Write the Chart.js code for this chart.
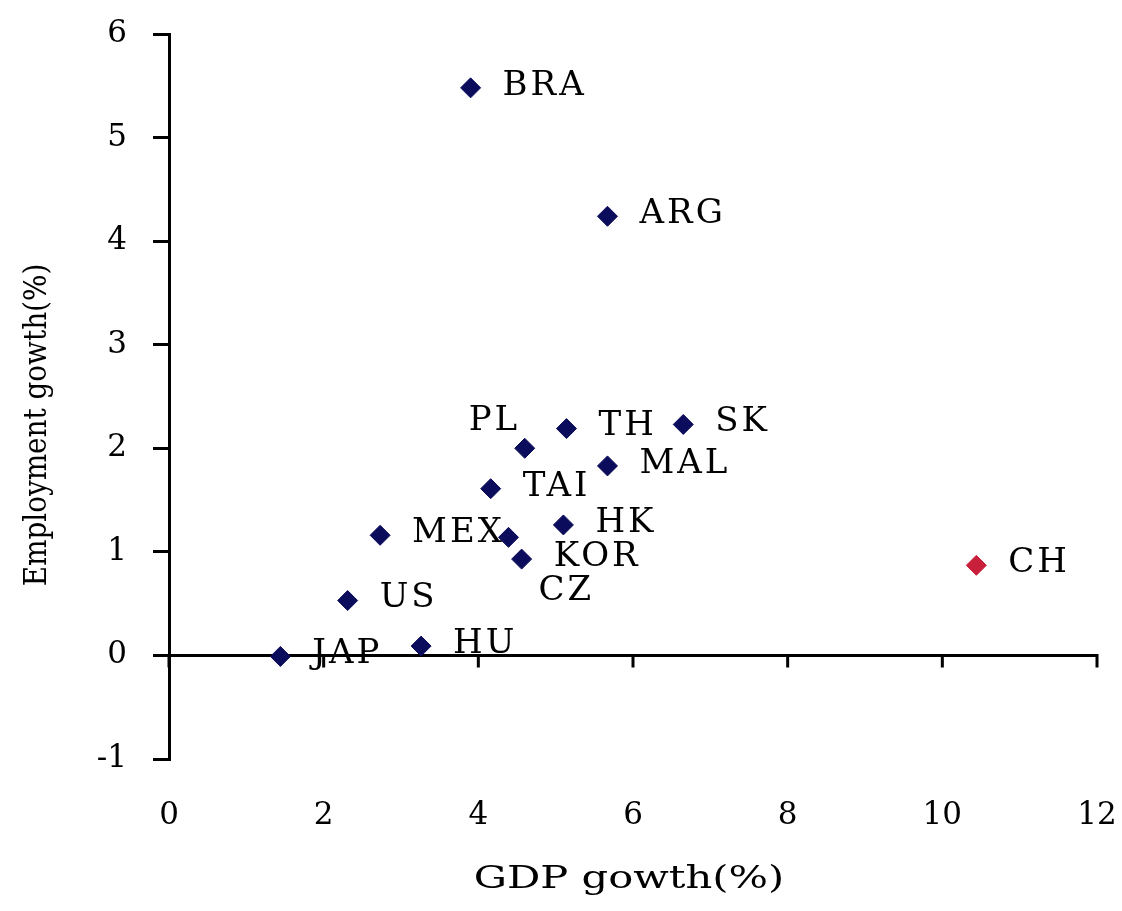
<!DOCTYPE html>
<html>
<head>
<meta charset="utf-8">
<script src="https://cdn.jsdelivr.net/npm/chart.js@4"></script>
<style>
  body { margin: 0; background: #fff; }
</style>
</head>
<body>
<canvas id="myChart1" width="1122" height="911"></canvas>
<script>
// 国・地域の略称
const countries = ["BRA", "ARG", "PL", "TH", "SK", "MAL", "TAI", "HK", "MEX", "CZ", "KOR", "US", "JAP", "HU", "CH"];
// GDP成長率(%)
const gdpGrowth = [3.90, 5.67, 4.60, 5.14, 6.65, 5.67, 4.16, 5.10, 2.73, 4.39, 4.56, 2.31, 1.44, 3.26, 10.44];
// 雇用成長率(%)
const employmentGrowth = [5.48, 4.24, 2.00, 2.19, 2.23, 1.83, 1.61, 1.26, 1.16, 1.14, 0.93, 0.53, -0.01, 0.09, 0.87];

const xTitle = "GDP gowth(%)";
const yTitle = "Employment gowth(%)";

// ラベルの位置(点からのずれ) 指定なしは右横
const labelOffsets = { PL: [-56, -27], CZ: [30, 54] };

const points = countries.map((c, i) => ({ x: gdpGrowth[i], y: employmentGrowth[i] }));

const pointLabels = {
    id: "pointLabels",
    beforeDatasetsDraw(chart) {
        // y=0 の位置に横軸の線と目盛り
        const ctx = chart.ctx;
        const area = chart.chartArea;
        const xs = chart.scales.x;
        const y0 = chart.scales.y.getPixelForValue(0);
        ctx.save();
        ctx.strokeStyle = "#000";
        ctx.lineWidth = 3;
        ctx.beginPath();
        ctx.moveTo(area.left, y0);
        ctx.lineTo(area.right + 1.5, y0);
        xs.ticks.forEach(t => {
            const px = xs.getPixelForValue(t.value);
            ctx.moveTo(px, y0);
            ctx.lineTo(px, y0 + 12);
        });
        ctx.stroke();
        ctx.restore();
    },
    afterDatasetsDraw(chart) {
        const ctx = chart.ctx;
        const meta = chart.getDatasetMeta(0);
        ctx.save();
        ctx.font = "34px 'DejaVu Serif'";
        ctx.letterSpacing = "3px";
        ctx.fillStyle = "#000";
        ctx.textBaseline = "middle";
        ctx.textAlign = "left";
        meta.data.forEach((pt, i) => {
            const off = labelOffsets[countries[i]] || [32, -2];
            ctx.fillText(countries[i], pt.x + off[0], pt.y + off[1]);
        });
        ctx.restore();
    },
    afterDraw(chart) {
        const ctx = chart.ctx;
        const area = chart.chartArea;
        ctx.save();
        ctx.fillStyle = "#000";
        ctx.textAlign = "center";
        ctx.textBaseline = "middle";
        // x軸タイトル
        ctx.font = "32px 'DejaVu Serif'";
        ctx.translate((area.left + area.right) / 2 - 4, 880);
        ctx.scale(1.3, 1);
        ctx.fillText(xTitle, 0, 0);
        ctx.restore();
        // y軸タイトル
        ctx.save();
        ctx.fillStyle = "#000";
        ctx.textAlign = "center";
        ctx.textBaseline = "middle";
        ctx.font = "32px 'DejaVu Serif'";
        ctx.translate(38, 425);
        ctx.rotate(-Math.PI / 2);
        ctx.scale(0.87, 1);
        ctx.fillText(yTitle, 0, 0);
        ctx.restore();
    }
};

window.onload = function(){
    const ctx = document.getElementById("myChart1").getContext("2d");
    const navy = "#0c0c5c";
    const red = "#c8203a";
    const myChart = new Chart(ctx, {
        type: "scatter",
        data: {
            datasets: [
                {
                    label: "countries",
                    data: points,
                    pointStyle: "rectRot",
                    pointRadius: 10,
                    pointHoverRadius: 10,
                    backgroundColor: c => countries[c.dataIndex] === "CH" ? red : navy,
                    borderColor: c => countries[c.dataIndex] === "CH" ? red : navy,
                    borderWidth: 1,
                },
            ],
        },
        options: {
            responsive: false,
            animation: false,
            layout: { padding: { left: 0, right: 25, top: 34, bottom: 0 } },
            plugins: {
                legend: { display: false },
                tooltip: { enabled: false },
            },
            scales: {
                x: {
                    type: "linear",
                    position: "bottom",
                    min: 0,
                    max: 12,
                    grid: { display: false },
                    border: { display: false },
                    ticks: {
                        stepSize: 2,
                        padding: 30,
                        color: "#000",
                        font: { family: "'DejaVu Serif'", size: 31 },
                    },
                    afterFit: s => {
                        s.height = 152;
                        s.paddingLeft = 0;
                        s.paddingRight = 0;
                    },
                },
                y: {
                    type: "linear",
                    position: "left",
                    min: -1,
                    max: 6,
                    ticks: {
                        stepSize: 1,
                        padding: 26,
                        color: "#000",
                        font: { family: "'DejaVu Serif'", size: 31 },
                    },
                    grid: {
                        drawOnChartArea: false,
                        drawTicks: true,
                        tickLength: 16,
                        color: "#000",
                        lineWidth: 3,
                    },
                    border: { display: true, color: "#000", width: 3 },
                    afterFit: s => {
                        s.width = 169;
                        s.paddingTop = 0;
                        s.paddingBottom = 0;
                    },
                },
            },
        },
        plugins: [pointLabels],
    });
};
</script>
</body>
</html>
